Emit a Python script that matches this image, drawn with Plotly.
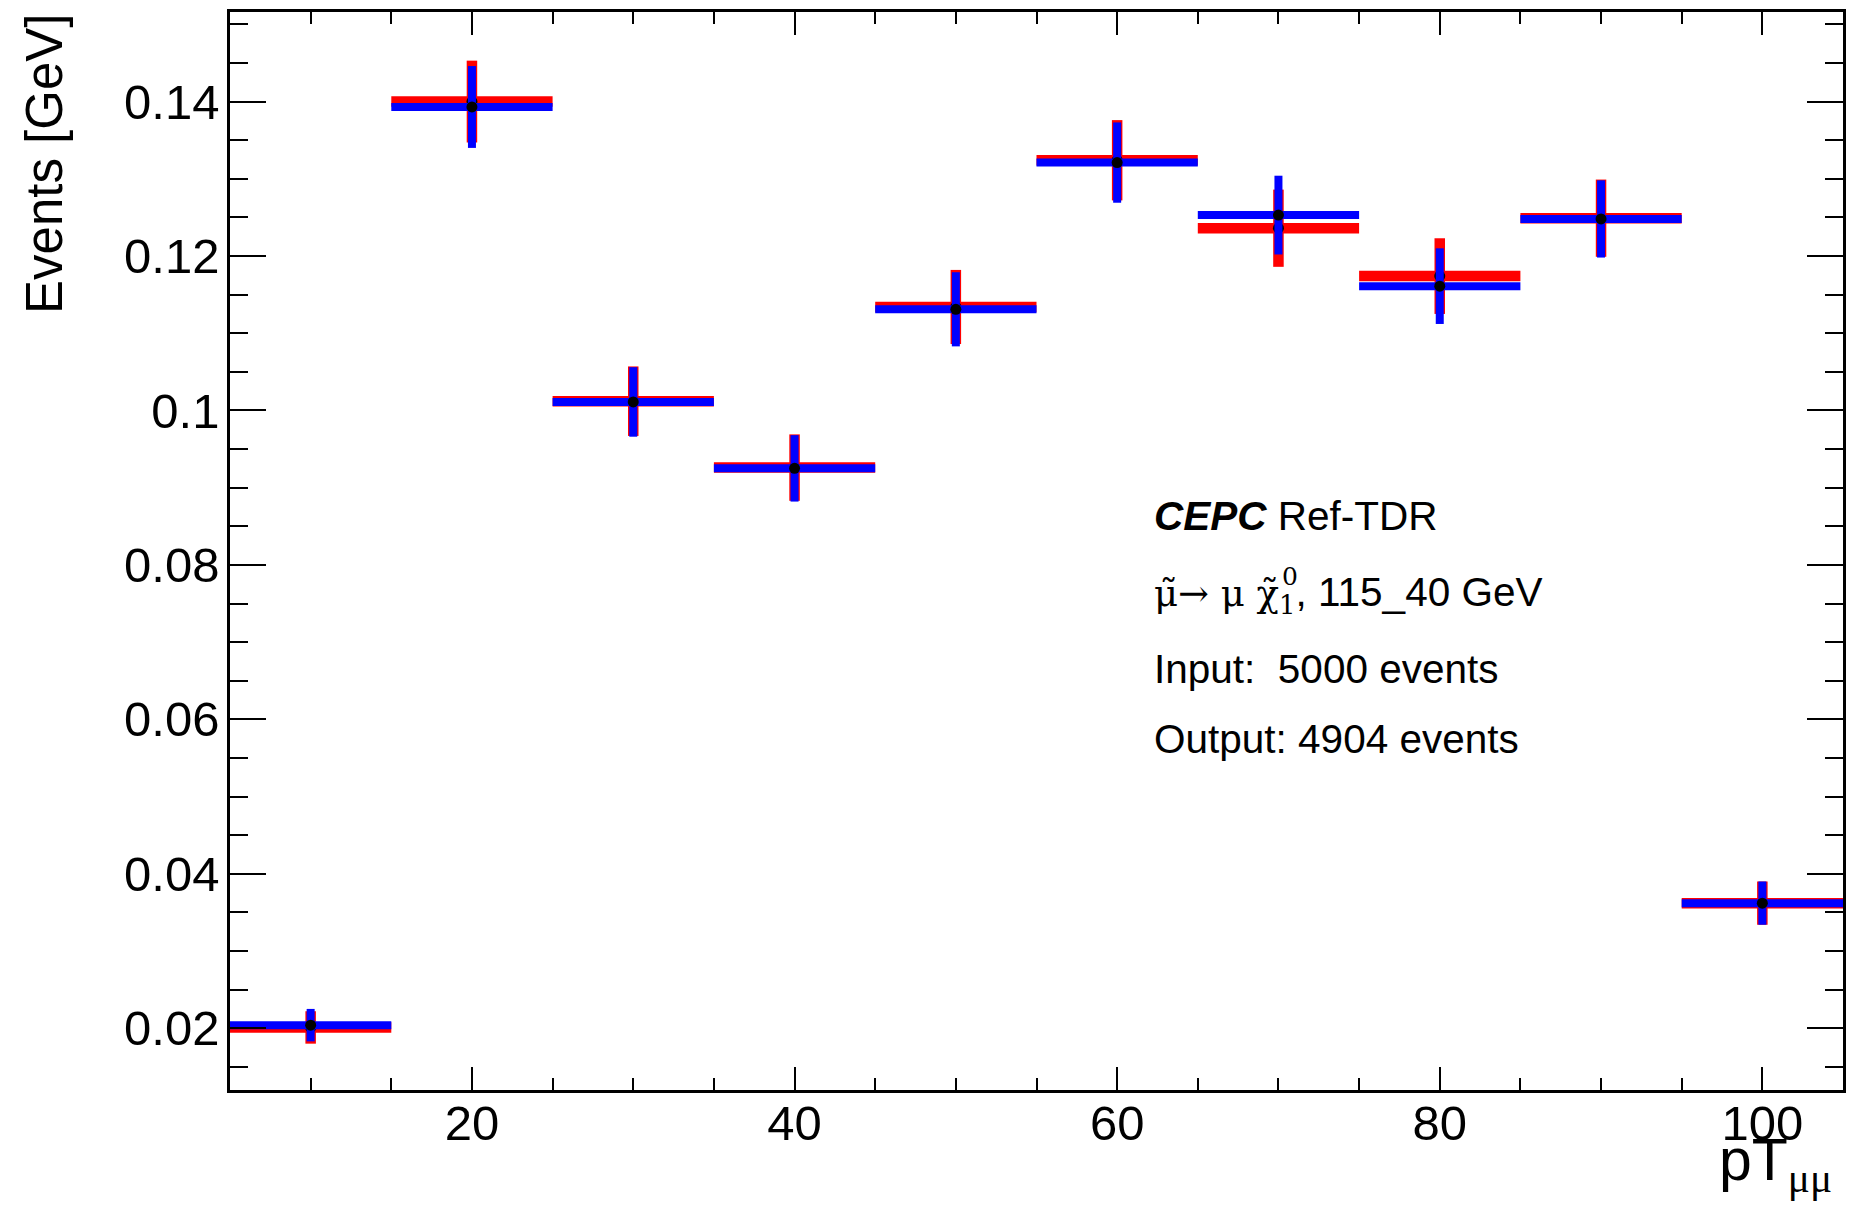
import plotly.graph_objects as go

# ---------------- data ----------------
bin_centers = [10, 20, 30, 40, 50, 60, 70, 80, 90, 100]
bin_width = 10
red_vals = [0.0201, 0.1400, 0.1012, 0.0926, 0.1134, 0.1324, 0.1236, 0.1174, 0.1249, 0.0362]
red_errs = [0.0021, 0.0053, 0.0045, 0.0043, 0.0048, 0.0052, 0.0050, 0.0049, 0.0050, 0.0028]
blue_vals = [0.0204, 0.1393, 0.1011, 0.0925, 0.1131, 0.1321, 0.1253, 0.1161, 0.1248, 0.0362]
blue_errs = [0.0021, 0.0053, 0.0045, 0.0043, 0.0048, 0.0052, 0.0051, 0.0049, 0.0050, 0.0028]

x_tickvals = [20, 40, 60, 80, 100]
x_ticktext = ["20", "40", "60", "80", "100"]
y_tickvals = [0.02, 0.04, 0.06, 0.08, 0.10, 0.12, 0.14]
y_ticktext = ["0.02", "0.04", "0.06", "0.08", "0.1", "0.12", "0.14"]

x_range = [5, 105]
y_range = [0.012, 0.1516]

# ---------------- layout geometry ----------------
W, H = 1857, 1218
PL, PR, PT, PB = 230, 1843, 9, 1090
FONT = "Liberation Sans, Arial, Helvetica, sans-serif"
SERIF = "DejaVu Serif, Liberation Serif, serif"
SERIF2 = "Liberation Serif, Times New Roman, serif"


def px_x(px):
    return (px - PL) / (PR - PL)


def px_y(py):
    return (PB - py) / (PB - PT)


half = [bin_width / 2.0] * len(bin_centers)

fig = go.Figure()


def add_hist(vals, errs, color, thick):
    fig.add_trace(go.Scatter(
        x=bin_centers, y=vals, mode="markers",
        marker=dict(color="black", size=11, symbol="circle", line=dict(width=0)),
        error_y=dict(type="data", array=errs, visible=True, color=color,
                     thickness=thick, width=0),
        error_x=dict(type="data", array=half, visible=True, color=color,
                     thickness=thick, width=0),
        showlegend=False, hoverinfo="skip",
    ))


add_hist(red_vals, red_errs, "#ff0000", 10.5)
add_hist(blue_vals, blue_errs, "#0000ff", 8)

axis_common = dict(
    showline=True, linecolor="black", linewidth=2.5, mirror="allticks",
    ticks="inside", tickcolor="black", tickwidth=2,
    showgrid=False, zeroline=False,
    tickfont=dict(family=FONT, size=49, color="black"),
)

fig.update_xaxes(
    range=x_range, tickmode="array", tickvals=x_tickvals, ticktext=x_ticktext,
    ticklen=23, ticklabelstandoff=-12,
    minor=dict(tickmode="linear", tick0=0, dtick=5, ticklen=12, tickwidth=2,
               tickcolor="black", ticks="inside", showgrid=False),
    **axis_common,
)
fig.update_yaxes(
    range=y_range, tickmode="array", tickvals=y_tickvals, ticktext=y_ticktext,
    ticklen=36, ticklabelstandoff=-2,
    minor=dict(tickmode="linear", tick0=0, dtick=0.005, ticklen=18, tickwidth=2,
               tickcolor="black", ticks="inside", showgrid=False),
    **axis_common,
)

annotations = []

# axis titles
annotations.append(dict(
    text="Events [GeV]", textangle=-90, xref="paper", yref="paper",
    x=px_x(44), y=px_y(PT), xanchor="center", yanchor="top", showarrow=False,
    font=dict(family=FONT, size=51, color="black"),
))
annotations.append(dict(
    text="pT<sub><span style='font-family:" + SERIF2 + "'>μμ</span></sub>",
    xref="paper", yref="paper",
    x=px_x(1834), y=px_y(1125), xanchor="right", yanchor="top", showarrow=False,
    font=dict(family=FONT, size=59, color="black"),
))

# text block
TF = 40.5
lines = [
    ("<b><i>CEPC</i></b> Ref-TDR", 526),
    ("<span style='font-family:" + SERIF + ";font-size:37px'>μ̃→ μ χ̃<sub>1</sub></span>, 115_40 GeV", 602),
    ("Input:  5000 events", 679),
    ("Output: 4904 events", 750),
]
for txt, base in lines:
    annotations.append(dict(
        text=txt, xref="paper", yref="paper",
        x=px_x(1152), y=px_y(base - 0.905 * TF), xanchor="left", yanchor="top",
        showarrow=False, font=dict(family=FONT, size=TF, color="black"),
    ))
annotations.append(dict(
    text="0", xref="paper", yref="paper",
    x=px_x(1290), y=px_y(575), xanchor="center", yanchor="middle",
    showarrow=False, font=dict(family=SERIF, size=25, color="black"),
))

fig.update_layout(
    width=W, height=H,
    margin=dict(l=PL, r=W - PR, t=PT, b=H - PB, pad=0),
    paper_bgcolor="white", plot_bgcolor="white",
    annotations=annotations,
    font=dict(family=FONT, color="black"),
)

fig.write_html("out.html")
